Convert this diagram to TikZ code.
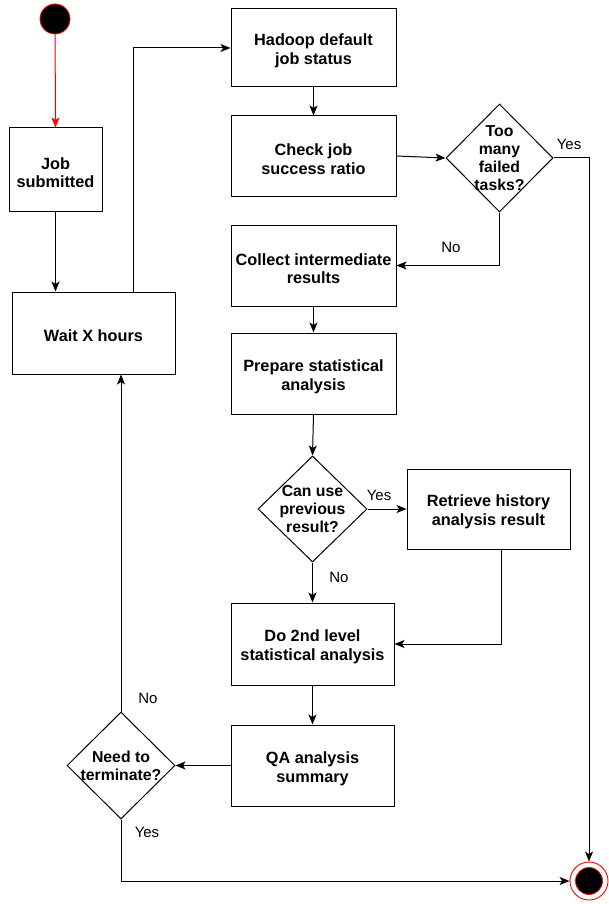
\documentclass[tikz,border=0pt]{standalone}
\usepackage{fontspec}
\setmainfont{Liberation Sans}
\usetikzlibrary{arrows.meta,shapes.geometric}
\tikzset{
  tasktext/.style={
    align=center,
    inner sep=0pt,
    yshift=-3pt,
    font=\fontsize{16.3}{18.6}\selectfont\bfseries
  },
  task/.style={
    draw,
    line width=1pt,
    inner sep=0pt,
    label={[tasktext]center:#1}
  },
  choice/.style={
    draw,
    shape=diamond,
    line width=1pt,
    inner sep=0pt,
    label={[align=center,font=\fontsize{15.8}{18}\selectfont\bfseries]center:#1}
  },
  flow/.style={
    line width=1pt,
    -{Stealth[length=10pt,width=8pt,inset=2.5pt]}
  },
  answer/.style={
    inner sep=0pt,
    font=\fontsize{15}{17}\selectfont
  },
}
\begin{document}
\begin{tikzpicture}[x=1pt,y=-1pt]
\useasboundingbox (0,0) rectangle (609,904);
% start and end
\node[circle,draw=red,fill=black,line width=0.8pt,minimum size=30pt,inner sep=0pt] (start) at (55,19) {};
\node[circle,draw=red,fill=white,line width=0.9pt,minimum size=38pt,inner sep=0pt] (end) at (589,881) {};
\node[circle,draw=red,fill=black,line width=0.8pt,minimum size=27pt,inner sep=0pt] (endcore) at (589,881) {};
% boxes
\node[task={Job\\submitted},minimum width=93pt,minimum height=83pt] (job) at (55.5,169.5) {};
\node[tasktext/.append style={yshift=3pt},task={Wait X hours},minimum width=163pt,minimum height=82pt] (wait) at (93.5,333) {};
\node[task={Hadoop default\\job status},minimum width=165pt,minimum height=78pt] (hadoop) at (313.5,48) {};
\node[task={Check job\\success ratio},minimum width=165pt,minimum height=80pt] (check) at (313.5,156) {};
\node[task={Collect intermediate\\results},minimum width=165pt,minimum height=81pt] (collect) at (313.5,265.5) {};
\node[task={Prepare statistical\\analysis},minimum width=165pt,minimum height=81pt] (prepare) at (313.5,373.5) {};
\node[task={Retrieve history\\analysis result},minimum width=163pt,minimum height=80pt] (retrieve) at (488.5,509) {};
\node[task={Do 2nd level\\statistical analysis},minimum width=163pt,minimum height=82pt] (second) at (312.5,644) {};
\node[task={QA analysis\\summary},minimum width=163pt,minimum height=81pt] (qa) at (312.5,765.5) {};
% decisions
\node[choice={Too\\many\\failed\\tasks?},minimum width=107pt,minimum height=108pt] (failed) at (499.5,158) {};
\node[choice={Can use\\previous\\result?},minimum width=109pt,minimum height=106pt] (reuse) at (312.5,509) {};
\node[choice={Need to\\terminate?},minimum width=108pt,minimum height=107pt] (stop) at (121,765.5) {};
% connectors
\draw[flow,red] (start) -- (job.north);
\draw[flow] (job.south) -- (job.south |- wait.north);
\draw[flow] ([xshift=39.5pt]wait.north) |- (hadoop.west);
\draw[flow] (hadoop) -- (check);
\draw[flow] (check.east) -- (failed.west);
\draw[flow] (failed.east) -| (end.north);
\draw[flow] (failed.south) |- (collect.east);
\draw[flow] (collect) -- (prepare);
\draw[flow] (prepare.south) -- (reuse.north);
\draw[flow] (reuse.east) -- (retrieve.west);
\draw[flow] (reuse.south) -- (second.north);
\draw[flow] ([xshift=12.5pt]retrieve.south) |- (second.east);
\draw[flow] (second) -- (qa);
\draw[flow] (qa.west) -- (stop.east);
\draw[flow] (stop.north) -- (stop.north |- wait.south);
\draw[flow] (stop.south) |- (end.west);
% answers
\node[answer] (failedyes) at (569,144) {Yes};
\node[answer] (failedno) at (451,247) {No};
\node[answer] (reuseyes) at (379,495) {Yes};
\node[answer] (reuseno) at (339,577) {No};
\node[answer] (stopno) at (148,698) {No};
\node[answer] (stopyes) at (147,832) {Yes};
\end{tikzpicture}
\end{document}
